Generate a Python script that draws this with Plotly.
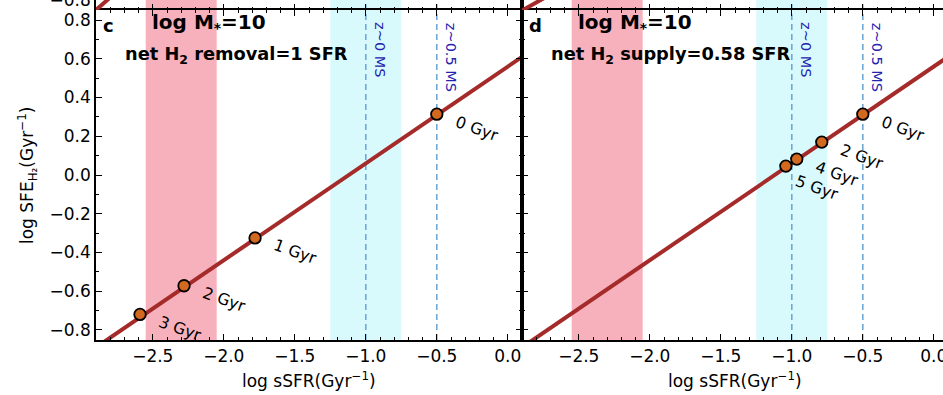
import plotly.graph_objects as go

# ---------------- data ----------------
# panel c : net H2 removal = 1 SFR
c_ssfr = [-0.5, -1.78, -2.28, -2.59]
c_sfe = [0.314, -0.325, -0.572, -0.72]
c_labels = ["0 Gyr", "1 Gyr", "2 Gyr", "3 Gyr"]

# panel d : net H2 supply = 0.58 SFR
d_ssfr = [-0.5, -0.789, -0.965, -1.042]
d_sfe = [0.314, 0.17, 0.082, 0.046]
d_labels = ["0 Gyr", "2 Gyr", "4 Gyr", "5 Gyr"]

# model line (same in c and d)
line_ssfr = [-3.0, 0.2]
line_sfe = [-0.94, 0.66]

# bits of the panels above (a, b) that are visible in the crop
a_line_ssfr = [-2.95, -2.7]
a_line_sfe = [-0.885, -0.72]
b_line_ssfr = [-2.95, -2.65]
b_line_sfe = [-0.8755, -0.75]

quiescent_band = [-2.55, -2.05]
ms_band = [-1.25, -0.75]
ms_lines = [-1.0, -0.5]
ms_line_names = ["z~0 MS", "z~0.5 MS"]

x_ticks = [-2.5, -2.0, -1.5, -1.0, -0.5, 0.0]
y_ticks = [-0.8, -0.6, -0.4, -0.2, 0.0, 0.2, 0.4, 0.6, 0.8]

# ---------------- style ----------------
W, H = 943, 395
FONT = "DejaVu Sans"
LINE_COL = "#a52a2a"
MK_COL = "#d2691e"
PINK = "#f7b1bc"
CYAN = "#d9fafc"
DASH_COL = "#6fa8d4"
TXT_BLUE = "#2323b0"

PX_L, PX_M, PX_UNIT = 96, 522, 142.0   # panel edges and pixels per data unit
xl, xm, xr = PX_L / W, PX_M / W, 1.0
yb, yt = (H - 340) / H, (H - 10) / H

XR_C = [-2.9, 0.1]
XR_D = [-2.9, -2.9 + (W - PX_M) / PX_UNIT]
YR = [-0.852, 0.852]
YR_TOP = [-0.852, -0.7995]

fig = go.Figure()

def fmt(v):
    return f"{v:.1f}".replace("-", "\u2212")

def axis_common(**kw):
    d = dict(showline=True, linecolor="black", linewidth=1.5, ticks="inside",
             ticklen=6, tickwidth=1.2, tickcolor="black", showgrid=False,
             zeroline=False, ticklabeloverflow="allow", automargin=False,
             tickfont=dict(family=FONT, size=17, color="black"),
             minor=dict(ticks="inside", ticklen=3.5, tickwidth=1, tickcolor="black", dtick=0.1))
    d.update(kw)
    return d

layout_axes = dict(
    xaxis=axis_common(domain=[xl, xm], anchor="y", range=XR_C, tickvals=x_ticks,
                      ticktext=[fmt(v) for v in x_ticks], mirror="allticks"),
    yaxis=axis_common(domain=[yb, yt], anchor="x", range=YR, tickvals=y_ticks,
                      ticktext=[fmt(v) for v in y_ticks], mirror="allticks"),
    xaxis2=axis_common(domain=[xm, xr], anchor="y2", range=XR_D, tickvals=x_ticks,
                       ticktext=[fmt(v) for v in x_ticks], mirror="allticks"),
    yaxis2=axis_common(domain=[yb, yt], anchor="x2", range=YR, tickvals=y_ticks,
                       showticklabels=False, mirror=False),
    xaxis3=axis_common(domain=[xl, xm], anchor="y3", range=XR_C, tickvals=x_ticks,
                       showticklabels=False, mirror=False, showline=False),
    yaxis3=axis_common(domain=[yt, 1.0], anchor="x3", range=YR_TOP, tickvals=[-0.8],
                       ticktext=["\u22120.8"], mirror="allticks"),
    xaxis4=axis_common(domain=[xm, xr], anchor="y4", range=XR_D, tickvals=x_ticks,
                       showticklabels=False, mirror=False, showline=False),
    yaxis4=axis_common(domain=[yt, 1.0], anchor="x4", range=YR_TOP, tickvals=[-0.8],
                       showticklabels=False, mirror=False),
)

shapes = []
for xa, ya in [("x", "y"), ("x2", "y2"), ("x3", "y3"), ("x4", "y4")]:
    yd = ya + " domain"
    shapes.append(dict(type="rect", xref=xa, yref=yd, x0=quiescent_band[0], x1=quiescent_band[1],
                       y0=0, y1=1, fillcolor=PINK, line=dict(width=0), layer="below"))
    shapes.append(dict(type="rect", xref=xa, yref=yd, x0=ms_band[0], x1=ms_band[1],
                       y0=0, y1=1, fillcolor=CYAN, line=dict(width=0), layer="below"))
    for xv in ms_lines:
        shapes.append(dict(type="line", xref=xa, yref=yd, x0=xv, x1=xv, y0=0, y1=1,
                           line=dict(color=DASH_COL, width=1.6, dash="6px,4px"), layer="below"))

# lines and markers
for xa, ya in [("x", "y"), ("x2", "y2")]:
    fig.add_trace(go.Scatter(x=line_ssfr, y=line_sfe, mode="lines", xaxis=xa, yaxis=ya,
                             line=dict(color=LINE_COL, width=4), showlegend=False, hoverinfo="skip"))
fig.add_trace(go.Scatter(x=a_line_ssfr, y=a_line_sfe, mode="lines", xaxis="x3", yaxis="y3",
                         line=dict(color=LINE_COL, width=4), showlegend=False))
fig.add_trace(go.Scatter(x=b_line_ssfr, y=b_line_sfe, mode="lines", xaxis="x4", yaxis="y4",
                         line=dict(color=LINE_COL, width=4), showlegend=False))

for xs, ys, xa, ya in [(c_ssfr, c_sfe, "x", "y"), (d_ssfr, d_sfe, "x2", "y2")]:
    fig.add_trace(go.Scatter(x=xs, y=ys, mode="markers", xaxis=xa, yaxis=ya,
                             marker=dict(size=11.5, color=MK_COL, line=dict(color="black", width=1.8)),
                             showlegend=False))

ann = []
label_font = dict(family=FONT, size=16, color="black")
for xs, ys, labs, xa, ya in [(c_ssfr, c_sfe, c_labels, "x", "y"), (d_ssfr, d_sfe, d_labels, "x2", "y2")]:
    for xv, yv, lab in zip(xs, ys, labs):
        dx, dy = (31, -21) if lab == "5 Gyr" else (40, -14)
        ann.append(dict(x=xv, y=yv, xref=xa, yref=ya, text=lab, showarrow=False, textangle=20,
                        xshift=dx, yshift=dy, font=label_font, xanchor="center", yanchor="middle"))

# cut-off label from panel b
ann.append(dict(x=-2.23, y=1, xref="x4", yref="paper", text="1 Gyr", showarrow=False, textangle=20,
                yshift=12, font=label_font, xanchor="center", yanchor="middle"))

panel_txt = [("x", "y", "c", "net H<sub>2</sub> removal=1 SFR"),
             ("x2", "y2", "d", "net H<sub>2</sub> supply=0.58 SFR")]
for xa, ya, letter, sub in panel_txt:
    ann.append(dict(x=-2.865, y=0.77, xref=xa, yref=ya, text=f"<b>{letter}</b>", showarrow=False,
                    xanchor="left", yanchor="middle", font=dict(family=FONT, size=18, color="black")))
    ann.append(dict(x=-2.52, y=0.785, xref=xa, yref=ya, text="<b>log M<sub>*</sub>=10</b>", showarrow=False,
                    xanchor="left", yanchor="middle", font=dict(family=FONT, size=20, color="black")))
    ann.append(dict(x=-2.71, y=0.62, xref=xa, yref=ya, text=f"<b>{sub}</b>", showarrow=False,
                    xanchor="left", yanchor="middle", font=dict(family=FONT, size=17.8, color="black")))
    for xv, nm, yc in zip(ms_lines, ms_line_names, [0.65, 0.61]):
        ann.append(dict(x=xv + 0.1, y=yc, xref=xa, yref=ya, text=nm, showarrow=False, textangle=90,
                        xanchor="center", yanchor="middle", font=dict(family=FONT, size=14.5, color=TXT_BLUE)))

# axis titles
title_font = dict(family=FONT, size=17, color="black")
for xc in [(PX_L + PX_M) / 2 / W, (PX_M + PX_M + 3 * PX_UNIT) / 2 / W]:
    ann.append(dict(x=xc, y=(H - 380) / H, xref="paper", yref="paper",
                    text="log sSFR(Gyr<sup>\u22121</sup>)", showarrow=False,
                    xanchor="center", yanchor="middle", font=title_font))
ann.append(dict(x=27 / W, y=(H - 176) / H, xref="paper", yref="paper",
                text="log SFE<sub>H\u2082</sub>(Gyr<sup>\u22121</sup>)", showarrow=False, textangle=-90,
                xanchor="center", yanchor="middle", font=title_font))

fig.update_layout(width=W, height=H, margin=dict(l=0, r=0, t=0, b=0, pad=0, autoexpand=False),
                  paper_bgcolor="white", plot_bgcolor="white",
                  shapes=shapes, annotations=ann, showlegend=False,
                  font=dict(family=FONT), **layout_axes)

post = ("document.documentElement.style.margin='0';document.body.style.margin='0';"
        "document.body.style.padding='0';document.body.style.overflow='hidden';"
        "var d=document.getElementById('{plot_id}');d.style.position='fixed';"
        "d.style.left='0px';d.style.top='0px';")

fig.write_html("out.html", config={"displayModeBar": False}, post_script=post)
